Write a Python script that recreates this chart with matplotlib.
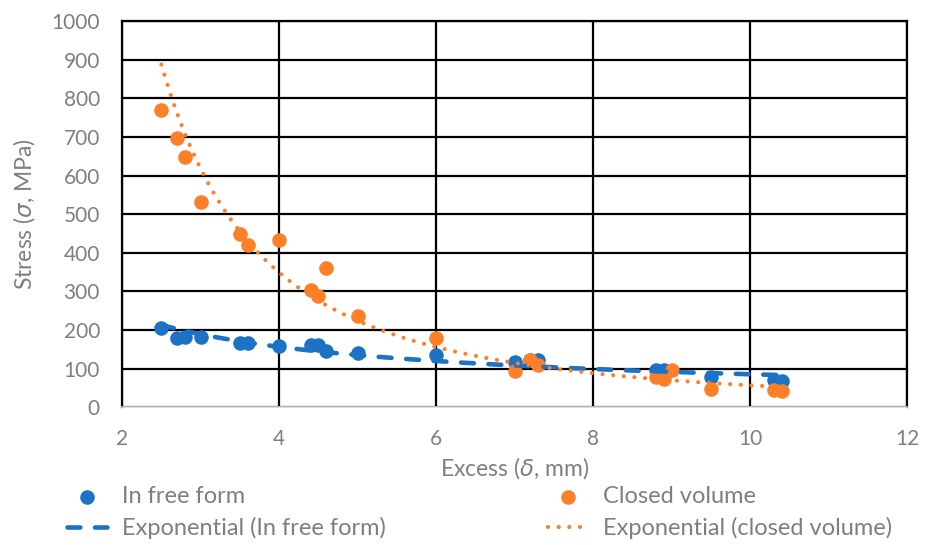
import matplotlib
matplotlib.use("Agg")
import matplotlib.pyplot as plt
import numpy as np

free_x = [2.5, 2.7, 2.8, 3.0, 3.5, 3.6, 4.0, 4.4, 4.5, 4.6, 5.0, 6.0, 7.0, 7.2, 7.3, 8.8, 8.9, 9.5, 10.3, 10.4]
free_y = [204, 178, 182, 183, 166, 165, 158, 162, 162, 145, 139, 134, 117, 123, 121, 96, 96, 78, 70, 67]

closed_x = [2.5, 2.7, 2.8, 3.0, 3.5, 3.6, 4.0, 4.4, 4.5, 4.6, 5.0, 6.0, 7.0, 7.2, 7.3, 8.8, 8.9, 9.0, 9.5, 10.3, 10.4]
closed_y = [769, 698, 649, 531, 449, 419, 432, 304, 289, 361, 237, 179, 94, 121, 108, 78, 74, 95, 48, 44, 42]

x_ticks = [2, 4, 6, 8, 10, 12]
y_ticks = [0, 100, 200, 300, 400, 500, 600, 700, 800, 900, 1000]

BLUE = "#1c73c6"
ORANGE = "#fd7f28"
GREY = "#7f7f7f"

plt.rcParams["font.family"] = ["Lato", "DejaVu Sans"]
plt.rcParams["mathtext.fontset"] = "dejavusans"


def trend(x, y):
    # Excel-style trendline, fitted in log-log space
    b, a = np.polyfit(np.log(x), np.log(y), 1)
    xs = np.linspace(min(x), max(x), 200)
    return xs, np.exp(a) * xs ** b


fig = plt.figure(figsize=(9.25, 5.45), dpi=100)
ax = fig.add_axes([0.132, 0.253, 0.849, 0.708])

p1 = ax.scatter(free_x, free_y, s=110, color=BLUE, zorder=3, linewidths=0)
p2 = ax.scatter(closed_x, closed_y, s=110, color=ORANGE, zorder=4, linewidths=0)

tx, ty = trend(free_x, free_y)
l1, = ax.plot(tx, ty, color=BLUE, lw=3.3, dashes=(2.8, 3.2), dash_capstyle="round", zorder=5)
tx, ty = trend(closed_x, closed_y)
l2, = ax.plot(tx, ty, color=ORANGE, lw=3.0, dashes=(0.01, 2.55), dash_capstyle="round", zorder=5)

ax.set_xlim(2, 12)
ax.set_ylim(0, 1000)
ax.set_xticks(x_ticks)
ax.set_yticks(y_ticks)
ax.grid(True, color="black", lw=1.6, zorder=0)
ax.set_axisbelow(True)
ax.tick_params(axis="both", length=0, labelsize=15, labelcolor=GREY)
ax.tick_params(axis="y", pad=16)
ax.tick_params(axis="x", pad=16)

for side in ["top", "left", "right"]:
    ax.spines[side].set_color("black")
    ax.spines[side].set_linewidth(1.6)
ax.spines["bottom"].set_color("#d9d9d9")
ax.spines["bottom"].set_linewidth(1.2)

ax.set_xlabel("Excess ($\\delta$, mm)", fontsize=16.5, color=GREY, labelpad=4)
ax.set_ylabel("Stress ($\\sigma$, MPa)", fontsize=16.5, color=GREY, labelpad=10)

leg_kw = dict(loc="upper left", frameon=False, fontsize=17, labelcolor=GREY,
              handlelength=1.7, handletextpad=0.65, labelspacing=0.42, borderpad=0,
              borderaxespad=0, markerscale=1.0)
leg1 = fig.legend([p1, l1], ["In free form", "Exponential (In free form)"],
                  bbox_to_anchor=(67 / 925, 1 - 486 / 545), **leg_kw)
leg2 = fig.legend([p2, l2], ["Closed volume", "Exponential (closed volume)"],
                  bbox_to_anchor=(548 / 925, 1 - 486 / 545), **leg_kw)

fig.savefig("out.png", dpi=100)
